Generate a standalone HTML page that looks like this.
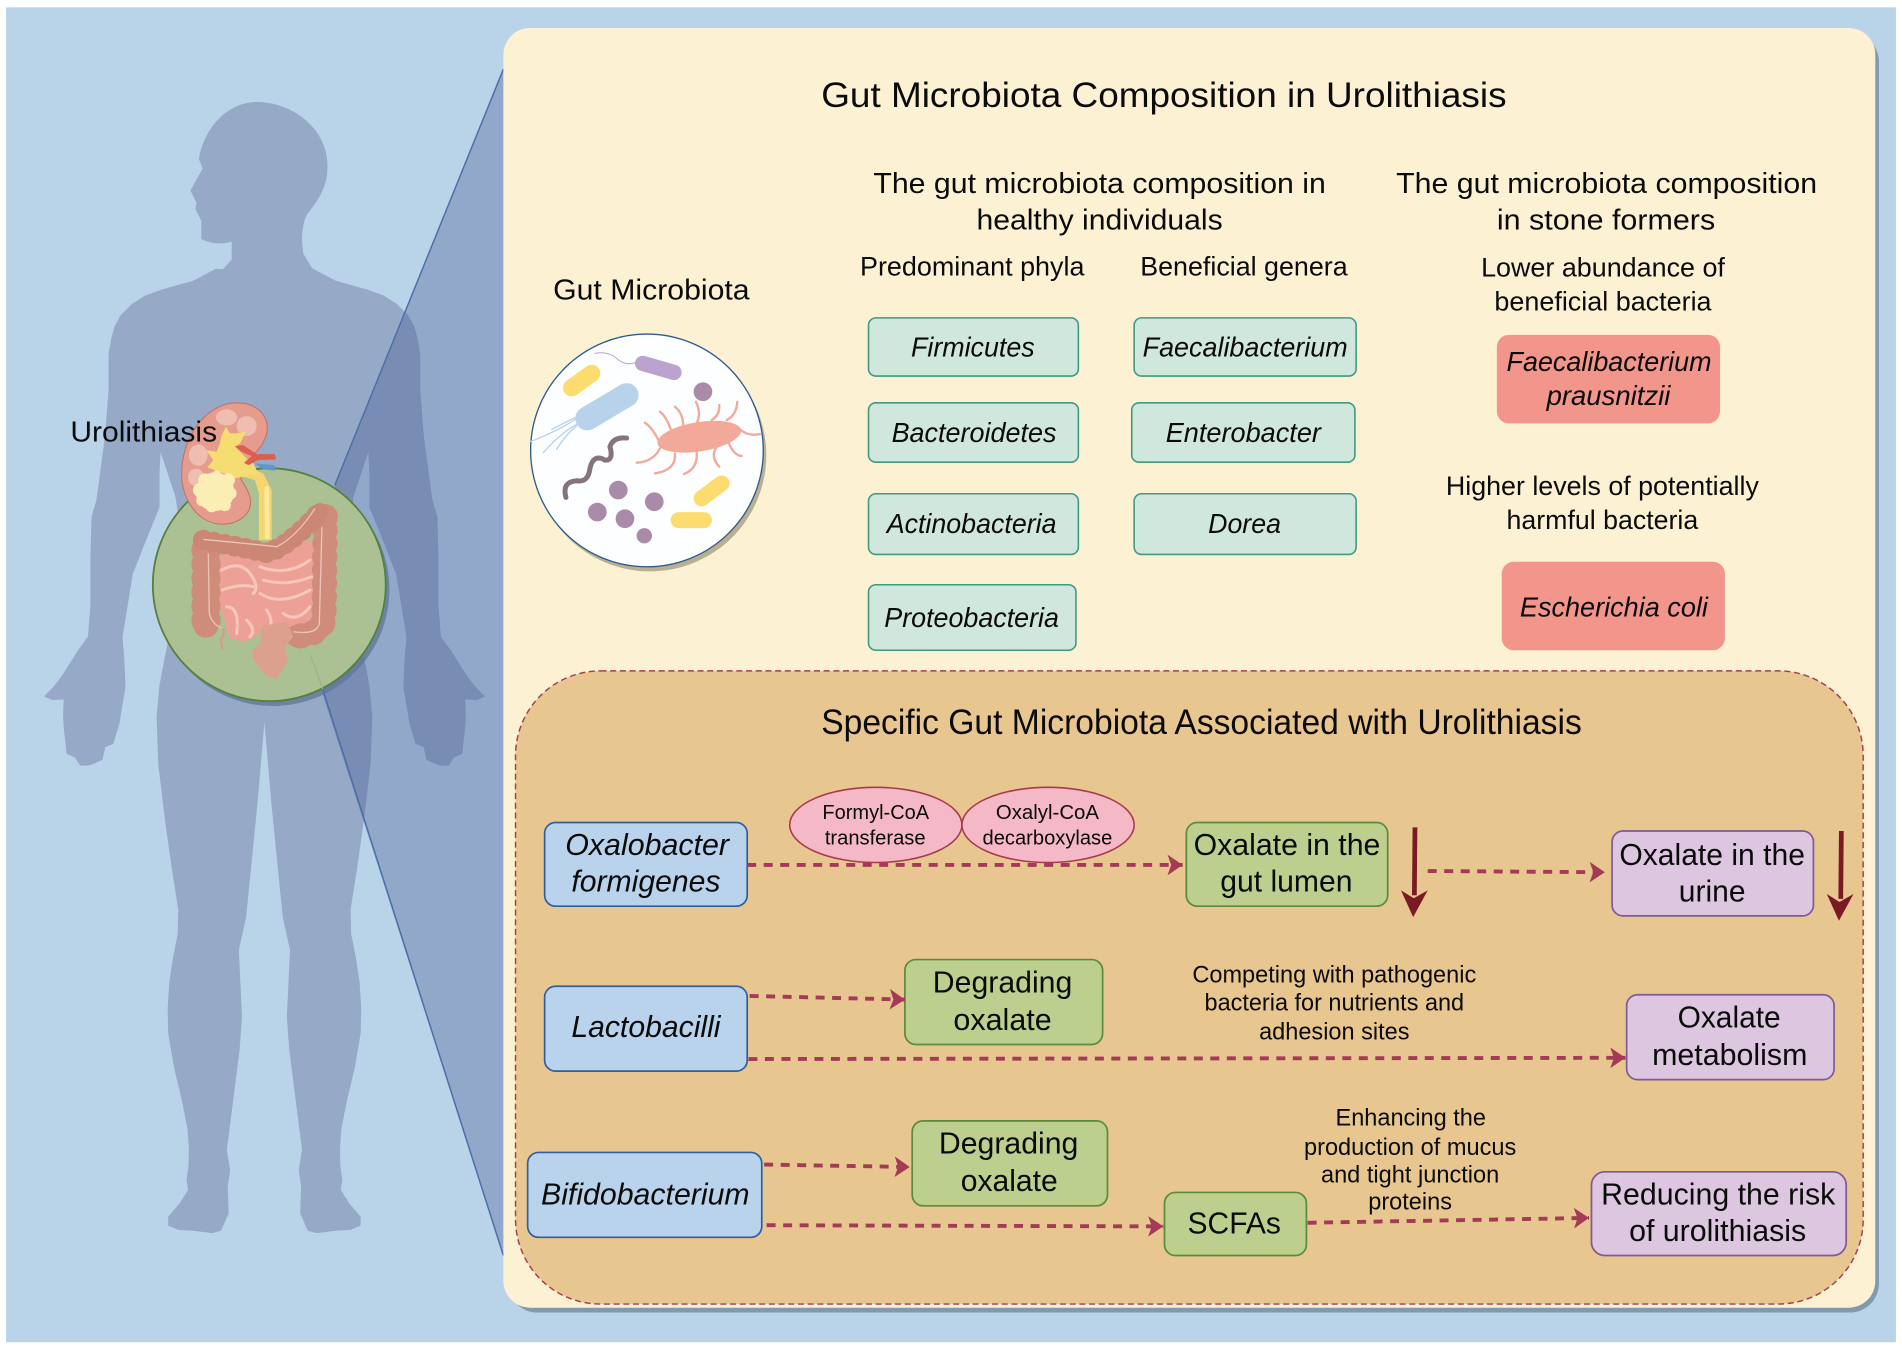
<!DOCTYPE html>
<html><head><meta charset="utf-8"><style>
html,body{margin:0;padding:0;background:#fff;width:1902px;height:1349px;overflow:hidden}
svg{display:block}
text{font-family:"Liberation Sans",sans-serif;fill:#0b0b0b}
.i{font-style:italic}
</style></head><body>
<svg width="1902" height="1349" viewBox="0 0 1568 1112" xmlns="http://www.w3.org/2000/svg">
<defs>
<marker id="a" markerUnits="userSpaceOnUse" markerWidth="14" markerHeight="18" refX="12.5" refY="8.5" orient="auto"><path d="M0 0L12.5 8.5L0 17L3 8.5Z" fill="#a33a56"/></marker>
<g id="half"><polygon points="218,225 258,222 277,232 302,239 316,244 327,251 336,260 341,269 344,280 346,292 346,322 349,360 353,390 356,412 360,426 361,460 361,500 363,525 371,536 378,547 385,558 392,567 399,574 393,576.5 383,576 383.5,590 383,599 380.6,621 374,624 369.6,630.6 363,630.6 358.6,629 352,626 349.6,615.5 343,612.8 338,596 333,566 334,544 335.5,525 327,473 316,445 305,418 305,390 304,370 291,409 286,440 288,500 295,520 299.5,541 304,565 306.4,591 305,630 299.5,676 294,715 288.5,750 289,770 292.7,788.6 296,810 297.3,832 296.8,852 292,880 285.8,906 281,930 279.8,945 280,960 281.7,972.8 280.4,981 288,993 296.8,1003 296.8,1010 288.6,1013.5 277.6,1014 269.3,1015 261,1016 254,1014 248,1000 248.7,978 246.8,964.6 249.5,948 244,905 239,865.6 237,838 239.6,783 233.6,756 228,700 224,659.5 218,589.4" fill="#96a9c6" stroke="#96a9c6" stroke-width="1" stroke-linejoin="round"/></g>
</defs>
<rect width="1568" height="1112" fill="#fff"/>
<rect x="5" y="6" width="1558" height="1100.5" fill="#b9d3e9"/>

<!-- body -->
<use href="#half"/>
<use href="#half" transform="translate(436,0) scale(-1,1)"/>
<path d="M212 84C240 84 270 105 270 137C270 155 262 165 253 177C250 183 249 190 249 198L250 209L258 222L218 245L180 226L191 214L191 199Q178 203 166 197L166 182L161 172L162 167L157 157L167 139L164 131C168 105 188 84 212 84Z" fill="#96a9c6"/>

<!-- zoom triangle -->
<polygon points="415,57 276,400 262,560 415,1035" fill="#40528e" fill-opacity=".33"/>
<path d="M415 57L276 400M266 568L415 1035" stroke="#4a6ea8" stroke-width="1.2" fill="none"/>

<!-- panel -->
<rect x="419" y="27" width="1130" height="1055" rx="24" fill="#8099b0"/>
<rect x="415" y="23" width="1131" height="1055" rx="22" fill="#fdf1d3"/>
<rect x="425" y="553" width="1111" height="522" rx="70" fill="#e8c690" stroke="#a33f50" stroke-width="1.2" stroke-dasharray="5 3"/>

<!-- green circle -->
<circle cx="225" cy="486" r="96" fill="#5f7698" fill-opacity=".75"/>
<circle cx="222" cy="482" r="96" fill="#abc193" stroke="#55803f" stroke-width="1.5"/>
<path d="M256 540L266 568" stroke="#9cb389" stroke-width="1"/>

<!-- kidney + intestine -->
<g transform="translate(98.9,313.3) scale(.2748)">
<path d="M298 525L580 480L578 735L515 750L430 740L410 770L370 785L330 775L295 660Z" fill="#eda196"/>
<g fill="none" stroke="#f8c6bb" stroke-width="9" stroke-linecap="round"><path d="M305 570Q360 540 390 580T400 640"/><path d="M420 560Q500 590 570 540"/><path d="M430 600Q500 620 575 590"/><path d="M420 640Q480 680 570 630"/><path d="M305 630Q360 610 400 620"/><path d="M320 680Q360 680 350 760"/><path d="M380 720Q410 750 390 770"/><path d="M440 690Q460 720 450 740"/><path d="M490 700Q530 730 570 680"/></g>
<g fill="none" stroke-linecap="round" stroke-linejoin="round">
<path d="M258 530L258 735" stroke="#cf8c7a" stroke-width="76"/>
<path d="M258 510L258 760" stroke="#cf8c7a" stroke-width="88" stroke-dasharray="0 42"/>
<path d="M616 420L612 720Q600 765 530 768" stroke="#cf8c7a" stroke-width="66"/>
<path d="M616 410L612 720Q600 765 530 768" stroke="#cf8c7a" stroke-width="76" stroke-dasharray="0 40"/>
<path d="M250 480Q380 505 440 518Q500 505 600 395" stroke="#cb8773" stroke-width="52"/>
<path d="M250 480Q380 505 440 518Q500 505 600 395" stroke="#cb8773" stroke-width="62" stroke-dasharray="0 32"/>
</g>
<g fill="none" stroke="#edc3b8" stroke-width="4"><path d="M265 520L268 700Q275 730 305 745"/><path d="M606 440L598 730Q590 765 520 755"/><path d="M250 478Q380 490 470 500Q530 470 585 385"/></g>
<path d="M310 745Q315 770 300 780Q310 795 305 808" fill="none" stroke="#d89a88" stroke-width="6"/>
<path d="M430 740L500 730L515 770L490 800L500 840L470 890L440 885L405 840L400 815L425 790Z" fill="#dba08e" stroke="#dba08e" stroke-width="8" stroke-linejoin="round"/>
<path d="M350 68C405 68 442 100 442 145C442 195 385 235 365 270C345 295 390 320 392 365C392 410 345 435 300 432C235 428 185 360 185 280C185 170 260 68 350 68Z" fill="#e59c8c" stroke="#c27063" stroke-width="3"/>
<g fill="#f0bdb1"><ellipse cx="320" cy="112" rx="32" ry="24"/><ellipse cx="380" cy="138" rx="30" ry="30"/><ellipse cx="235" cy="225" rx="28" ry="32"/><ellipse cx="228" cy="292" rx="24" ry="26"/></g>
<path d="M380 260L430 280L455 330L455 480L417 480L417 340L405 300L370 290Z" fill="#f5d66e"/>
<path d="M318 140L330 160L348 160L378 155L360 190L345 200L380 235L400 250L415 280L345 295L340 290L262 262L280 240L258 210L290 215L300 190L305 165Z" fill="#f6dd72"/>
<path d="M440 325L442 470" stroke="#fbe9a0" stroke-width="14" stroke-linecap="round"/>
<path d="M405 250L463 255L465 272L430 268Z" fill="#5f97cf"/>
<path d="M345 198L370 195L410 222L465 222L468 238L415 240L385 255L372 248L395 228L365 215Z" fill="#df5d4e"/>
<g fill="#fbeeb4"><circle cx="285" cy="335" r="58"/><circle cx="240" cy="330" r="21"/><circle cx="255" cy="300" r="20"/><circle cx="290" cy="285" r="14"/><circle cx="325" cy="300" r="20"/><circle cx="332" cy="340" r="18"/><circle cx="315" cy="375" r="18"/><circle cx="275" cy="380" r="17"/><circle cx="245" cy="362" r="16"/></g>
</g>

<!-- microbe plate -->
<g transform="translate(420.4,280.3) scale(.2748)">
<circle cx="420" cy="345" r="349" fill="#b8b090"/>
<circle cx="411" cy="331" r="349" fill="#fdfeff" stroke="#2d5a8f" stroke-width="4"/>
<g fill="none" stroke-linecap="round">
<path d="M185 143L245 100" stroke="#fddc6f" stroke-width="52"/>
<path d="M398 70L492 97" stroke="#baa4cf" stroke-width="46"/>
<path d="M375 68Q345 78 320 55T255 40" stroke="#baa4cf" stroke-width="3"/>
<path d="M232 235L350 165" stroke="#b8d2ec" stroke-width="72"/>
<path d="M200 235Q150 270 60 305M205 250Q150 280 100 338M200 258Q170 280 140 328M200 230Q160 250 125 268" stroke="#b8d2ec" stroke-width="4"/>
<path d="M168 472Q155 425 200 422Q235 428 240 385Q250 340 285 360Q312 362 300 320Q310 290 350 294" stroke="#85737f" stroke-width="15"/>
<path d="M575 475L635 430" stroke="#fddc6f" stroke-width="48"/>
<path d="M506 540L582 540" stroke="#fddc6f" stroke-width="48"/>
<g stroke="#f3a99a" stroke-width="7"><path d="M450 310Q430 265 405 248M485 275Q470 230 450 215M520 260Q520 220 495 200M560 250Q575 220 558 185M605 240Q630 225 628 195M650 240Q680 225 682 185M690 268Q715 290 750 282M655 305Q670 345 695 348M620 320Q600 350 628 380M560 335Q565 385 522 402M495 340Q500 390 435 400M450 325Q430 365 380 368"/></g>
</g>
<ellipse cx="568" cy="290" rx="127" ry="44" transform="rotate(-9 568 290)" fill="#f3a99a"/>
<g fill="#a98aa8"><circle cx="579" cy="155" r="28"/><circle cx="325" cy="450" r="28"/><circle cx="433" cy="485" r="28"/><circle cx="262" cy="516" r="28"/><circle cx="345" cy="536" r="28"/><circle cx="403" cy="587" r="23"/></g>
</g>

<!-- teal -->
<g fill="#cfe7dc" stroke="#3e9a80" stroke-width="1.3">
<rect x="716" y="262" width="173" height="48" rx="6"/><rect x="716" y="332" width="173" height="49" rx="6"/><rect x="716" y="407" width="173" height="50" rx="6"/><rect x="716" y="482" width="171" height="54" rx="6"/>
<rect x="935" y="262" width="183" height="48" rx="6"/><rect x="933" y="332" width="184" height="49" rx="6"/><rect x="935" y="407" width="183" height="50" rx="6"/>
</g>
<g fill="#f2958a"><rect x="1234" y="276" width="184" height="73" rx="10"/><rect x="1238" y="463" width="184" height="73" rx="10"/></g>
<g fill="#b8d3eb" stroke="#2f5f9e" stroke-width="1.4">
<rect x="449" y="678" width="167" height="69" rx="9"/><rect x="449" y="813" width="167" height="70" rx="9"/><rect x="435" y="950" width="193" height="70" rx="9"/></g>
<g fill="#bccf8f" stroke="#5a8a3a" stroke-width="1.4">
<rect x="978" y="678" width="166" height="69" rx="9"/><rect x="746" y="791" width="163" height="70" rx="9"/><rect x="752" y="924" width="161" height="70" rx="9"/><rect x="960" y="983" width="117" height="52" rx="9"/></g>
<g fill="#dcc6e0" stroke="#7e5a96" stroke-width="1.4">
<rect x="1329" y="685" width="166" height="70" rx="9"/><rect x="1341" y="820" width="171" height="70" rx="9"/><rect x="1312" y="966" width="210" height="69" rx="11"/></g>
<g fill="#f5b8c6" stroke="#a83a50" stroke-width="1.3"><ellipse cx="722" cy="680" rx="71" ry="31"/><ellipse cx="864" cy="680" rx="71" ry="31"/></g>

<!-- arrows -->
<g fill="none" stroke="#a33a56" stroke-width="3.2" stroke-dasharray="7.4 6.2">
<path d="M616 713L975 713" marker-end="url(#a)"/><path d="M1177 718L1323 719" marker-end="url(#a)"/><path d="M618 821L746 824" marker-end="url(#a)"/><path d="M617 873L1340 872" marker-end="url(#a)"/><path d="M630 960L750 962" marker-end="url(#a)"/><path d="M632 1010L959 1011" marker-end="url(#a)"/><path d="M1078 1008L1310 1004" marker-end="url(#a)"/>
</g>
<path d="M1166.5 682L1166 738" stroke="#7a1a24" stroke-width="3.9"/><path d="M1155 734L1165.5 740.5L1177 734L1165 756Z" fill="#7a1a24"/>
<path d="M1518 685L1517.5 741" stroke="#7a1a24" stroke-width="3.9"/><path d="M1506 737L1516.5 743.5L1528 737L1516 759Z" fill="#7a1a24"/>

<!-- text -->
<g font-size="29"><text x="677" y="88" textLength="565" lengthAdjust="spacingAndGlyphs">Gut Microbiota Composition in Urolithiasis</text>
<text x="677" y="605" textLength="627" lengthAdjust="spacingAndGlyphs">Specific Gut Microbiota Associated with Urolithiasis</text></g>
<g font-size="24">
<text x="720" y="159" textLength="373" lengthAdjust="spacingAndGlyphs">The gut microbiota composition in</text>
<text x="805" y="189" textLength="203" lengthAdjust="spacingAndGlyphs">healthy individuals</text>
<text x="1151" y="159" textLength="347" lengthAdjust="spacingAndGlyphs">The gut microbiota composition</text>
<text x="1234" y="189" textLength="180" lengthAdjust="spacingAndGlyphs">in stone formers</text>
<text x="456" y="247" textLength="162" lengthAdjust="spacingAndGlyphs">Gut Microbiota</text>
<text x="58" y="364" textLength="121" lengthAdjust="spacingAndGlyphs">Urolithiasis</text>
</g>
<g font-size="22">
<text x="709" y="227" textLength="185" lengthAdjust="spacingAndGlyphs">Predominant phyla</text>
<text x="940" y="227" textLength="171" lengthAdjust="spacingAndGlyphs">Beneficial genera</text>
<text x="1221" y="228" textLength="201" lengthAdjust="spacingAndGlyphs">Lower abundance of</text>
<text x="1232" y="256" textLength="179" lengthAdjust="spacingAndGlyphs">beneficial bacteria</text>
<text x="1192" y="408" textLength="258" lengthAdjust="spacingAndGlyphs">Higher levels of potentially</text>
<text x="1242" y="436" textLength="158" lengthAdjust="spacingAndGlyphs">harmful bacteria</text>
</g>
<g font-size="22.5" class="i">
<text x="751" y="294" textLength="102" lengthAdjust="spacingAndGlyphs">Firmicutes</text>
<text x="735" y="364.5" textLength="136" lengthAdjust="spacingAndGlyphs">Bacteroidetes</text>
<text x="731" y="439.5" textLength="140" lengthAdjust="spacingAndGlyphs">Actinobacteria</text>
<text x="729" y="517" textLength="144" lengthAdjust="spacingAndGlyphs">Proteobacteria</text>
<text x="942" y="294" textLength="169" lengthAdjust="spacingAndGlyphs">Faecalibacterium</text>
<text x="961" y="364.5" textLength="128" lengthAdjust="spacingAndGlyphs">Enterobacter</text>
<text x="996" y="439.5" textLength="60" lengthAdjust="spacingAndGlyphs">Dorea</text>
<text x="1242" y="306" textLength="169" lengthAdjust="spacingAndGlyphs">Faecalibacterium</text>
<text x="1275" y="334" textLength="102" lengthAdjust="spacingAndGlyphs">prausnitzii</text>
<text x="1253" y="508" textLength="155" lengthAdjust="spacingAndGlyphs">Escherichia coli</text>
</g>
<g font-size="17">
<text x="678" y="675" textLength="88" lengthAdjust="spacingAndGlyphs">Formyl-CoA</text>
<text x="680" y="696" textLength="83" lengthAdjust="spacingAndGlyphs">transferase</text>
<text x="821" y="675" textLength="85" lengthAdjust="spacingAndGlyphs">Oxalyl-CoA</text>
<text x="810" y="696" textLength="107" lengthAdjust="spacingAndGlyphs">decarboxylase</text>
</g>
<g font-size="25" class="i">
<text x="466" y="705" textLength="135" lengthAdjust="spacingAndGlyphs">Oxalobacter</text>
<text x="471" y="735" textLength="123" lengthAdjust="spacingAndGlyphs">formigenes</text>
<text x="471" y="855" textLength="123" lengthAdjust="spacingAndGlyphs">Lactobacilli</text>
<text x="446" y="993" textLength="172" lengthAdjust="spacingAndGlyphs">Bifidobacterium</text>
</g>
<g font-size="25">
<text x="984" y="705" textLength="154" lengthAdjust="spacingAndGlyphs">Oxalate in the</text>
<text x="1006" y="735" textLength="109" lengthAdjust="spacingAndGlyphs">gut lumen</text>
<text x="1335" y="713" textLength="153" lengthAdjust="spacingAndGlyphs">Oxalate in the</text>
<text x="1384" y="743" textLength="55" lengthAdjust="spacingAndGlyphs">urine</text>
<text x="769" y="818" textLength="115" lengthAdjust="spacingAndGlyphs">Degrading</text>
<text x="786" y="849" textLength="81" lengthAdjust="spacingAndGlyphs">oxalate</text>
<text x="774" y="951" textLength="115" lengthAdjust="spacingAndGlyphs">Degrading</text>
<text x="792" y="982" textLength="80" lengthAdjust="spacingAndGlyphs">oxalate</text>
<text x="979" y="1017" textLength="77" lengthAdjust="spacingAndGlyphs">SCFAs</text>
<text x="1383" y="847" textLength="85" lengthAdjust="spacingAndGlyphs">Oxalate</text>
<text x="1362" y="878" textLength="128" lengthAdjust="spacingAndGlyphs">metabolism</text>
<text x="1320" y="993" textLength="193" lengthAdjust="spacingAndGlyphs">Reducing the risk</text>
<text x="1343" y="1023" textLength="146" lengthAdjust="spacingAndGlyphs">of urolithiasis</text>
</g>
<g font-size="19.5">
<text x="983" y="810" textLength="234" lengthAdjust="spacingAndGlyphs">Competing with pathogenic</text>
<text x="993" y="833" textLength="214" lengthAdjust="spacingAndGlyphs">bacteria for nutrients and</text>
<text x="1038" y="857" textLength="124" lengthAdjust="spacingAndGlyphs">adhesion sites</text>
<text x="1101" y="928" textLength="124" lengthAdjust="spacingAndGlyphs">Enhancing the</text>
<text x="1075" y="952" textLength="175" lengthAdjust="spacingAndGlyphs">production of mucus</text>
<text x="1089" y="975" textLength="147" lengthAdjust="spacingAndGlyphs">and tight junction</text>
<text x="1128" y="997" textLength="69" lengthAdjust="spacingAndGlyphs">proteins</text>
</g>
</svg>
</body></html>
